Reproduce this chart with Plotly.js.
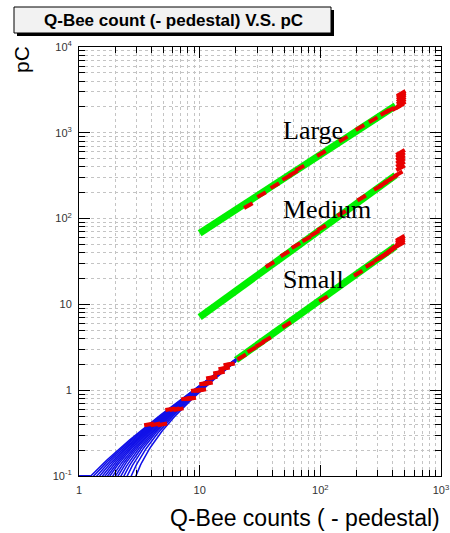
<!DOCTYPE html>
<html>
<head>
<meta charset="utf-8">
<script src="https://cdn.plot.ly/plotly-3.0.1.min.js"></script>
<style>
  html, body { margin: 0; padding: 0; background: #ffffff; }
  #chart { width: 450px; height: 533px; }
</style>
</head>
<body>
<div id="chart"></div>
<script>
// Q-Bee calibration: pedestal-subtracted counts against injected charge (pC)

// Large range measurements
const largeX = [25.3, 32.6, 42, 52.6, 59.7, 67.7, 102, 155, 213, 274, 343, 377, 429, 455, 468, 468, 468, 468, 468, 468];
const largeY = [141.6, 190, 242, 302, 337, 388, 574, 845, 1153, 1416, 1722, 1837, 1969, 2050, 2150, 2300, 2450, 2600, 2750, 2870];

// Medium range measurements
const mediumX = [38.2, 50.9, 62.8, 77, 90, 102.5, 150, 220, 302, 332, 365, 402, 442, 462, 462, 462, 462, 462, 462];
const mediumY = [29.2, 38.9, 48.5, 58, 67.5, 78, 115, 174, 231, 253, 277, 302, 331, 390, 430, 470, 510, 550, 590];

// Small range measurements above 20 counts
const smallX = [22.3, 27, 31.6, 35.9, 52.6, 106, 206, 258, 302, 318, 335, 352, 370, 390, 410, 429, 460, 460, 460, 460];
const smallY = [2.44, 2.97, 3.43, 3.88, 5.8, 11.6, 23.1, 29.2, 34, 35.5, 37, 39, 41, 43.5, 46, 48.5, 50, 53, 56, 59];

// Small range, low-charge points (0.2 pC steps, repeated readings)
const lowX = [3.8, 4.3, 4.9, 5.7, 6.2, 6.7, 7.7, 8.1, 8.5, 9.3, 9.8, 10.3, 10.9, 11.3, 11.7, 12.4, 12.8, 14.2, 14.7, 15.7, 16.2, 17.3, 17.8];
const lowY = [0.4, 0.4, 0.4, 0.6, 0.6, 0.6, 0.8, 0.8, 0.8, 1.0, 1.0, 1.0, 1.2, 1.2, 1.2, 1.4, 1.4, 1.6, 1.6, 1.8, 1.8, 2.0, 2.0];

// Power-law fits (straight in log-log): end points of each fitted segment
const largeFitX = [10, 420];
const largeFitY = [67.5, 2065];
const mediumFitX = [10, 420];
const mediumFitY = [7.1, 320];
const smallFitX = [20, 420];
const smallFitY = [2.25, 47.5];

// Low-range linear fits: counts where each fit reaches 0.1 pC, and its value at 20 counts
const lowFitStartX = [1.25, 1.32, 1.4, 1.48, 1.56, 1.64, 1.72, 1.8, 1.9, 2.0, 2.1, 2.22, 2.35, 2.5, 2.7, 2.95];
const lowFitEndY = [2.32, 2.31, 2.3, 2.29, 2.28, 2.27, 2.26, 2.25, 2.24, 2.23, 2.22, 2.21, 2.2, 2.19, 2.18, 2.16];
const lowFitEndX = 20;

// Axis labels
const xTickVals = [1, 10, 100, 1000];
const xTickText = ['1', '10', '10<sup>2</sup>', '10<sup>3</sup>'];
const yTickVals = [0.1, 1, 10, 100, 1000, 10000];
const yTickText = ['10<sup>-1</sup>', '1', '10', '10<sup>2</sup>', '10<sup>3</sup>', '10<sup>4</sup>'];

// ---- layout geometry (pixels) ----
const W = 450, H = 533;
const M = { l: 79, r: 9, t: 47, b: 57 };
const PW = W - M.l - M.r, PH = H - M.t - M.b;
const px = x => (x - M.l) / PW;          // page x -> paper x
const py = y => (H - M.b - y) / PH;      // page y -> paper y

function minorVals(lo, hi) {
  const v = [];
  for (let d = lo; d < hi; d++) {
    for (let k = 2; k <= 9; k++) v.push(k * Math.pow(10, d));
  }
  return v;
}

const traces = [];

// green fits
[[largeFitX, largeFitY], [mediumFitX, mediumFitY], [smallFitX, smallFitY]].forEach(([fx, fy]) => {
  traces.push({
    x: fx, y: fy, type: 'scatter', mode: 'lines',
    line: { color: '#00f000', width: 7 }, hoverinfo: 'skip'
  });
});

// blue low-range fits, each a straight line in linear space
lowFitStartX.forEach((x0, i) => {
  const x1 = lowFitEndX, y0 = 0.1, y1 = lowFitEndY[i];
  const slope = (y1 - y0) / (x1 - x0);
  const xs = [], ys = [];
  const n = 80;
  const a = Math.log10(x0 * 0.97), b = Math.log10(x1);
  for (let k = 0; k <= n; k++) {
    const x = Math.pow(10, a + (b - a) * k / n);
    xs.push(x);
    ys.push(y0 + slope * (x - x0));
  }
  traces.push({
    x: xs, y: ys, type: 'scatter', mode: 'lines',
    line: { color: '#1010e8', width: 1.5 }, hoverinfo: 'skip'
  });
});
// fits that dip below the frame run along its lower edge
traces.push({
  x: [1, lowFitStartX[0]], y: [0.1, 0.1], type: 'scatter', mode: 'lines',
  line: { color: '#1010e8', width: 2 }, cliponaxis: false, hoverinfo: 'skip'
});

// red measurement marks
const redMarker = (angle) => ({
  symbol: 'line-ew', size: 7, angle: angle,
  color: '#ff0000', line: { color: '#e80000', width: 4 }
});
[[largeX, largeY], [mediumX, mediumY], [smallX, smallY]].forEach(([mx, my]) => {
  traces.push({ x: mx, y: my, type: 'scatter', mode: 'markers', marker: redMarker(-30), hoverinfo: 'skip' });
});
traces.push({ x: lowX, y: lowY, type: 'scatter', mode: 'markers', marker: redMarker(-10), hoverinfo: 'skip' });

const gridCol = '#c4c4c4';
const axisCommon = {
  type: 'log',
  showline: true, linecolor: '#000', linewidth: 1, mirror: 'allticks',
  ticks: 'inside', tickcolor: '#000', tickwidth: 1,
  tickmode: 'array',
  showgrid: true, gridcolor: gridCol, gridwidth: 1, griddash: 'dot',
  zeroline: false,
  tickfont: { family: 'Liberation Sans, Arial, sans-serif', size: 11, color: '#333' },
  ticklabelstandoff: 4
};

const layout = {
  width: W, height: H,
  margin: M,
  paper_bgcolor: '#fff', plot_bgcolor: '#fff',
  showlegend: false,
  xaxis: Object.assign({}, axisCommon, {
    range: [0, 3], tickvals: xTickVals, ticktext: xTickText, ticklen: 11,
    minor: { tickmode: 'array', tickvals: minorVals(0, 3), ticks: 'inside', ticklen: 6,
             tickcolor: '#000', showgrid: true, gridcolor: gridCol, griddash: 'dot', gridwidth: 1 }
  }),
  yaxis: Object.assign({}, axisCommon, {
    range: [-1, 4], tickvals: yTickVals, ticktext: yTickText, ticklen: 11,
    minor: { tickmode: 'array', tickvals: minorVals(-1, 4), ticks: 'inside', ticklen: 6,
             tickcolor: '#000', showgrid: true, gridcolor: gridCol, griddash: 'dot', gridwidth: 1 }
  }),
  shapes: [
    // title box shadow
    { type: 'rect', xref: 'paper', yref: 'paper', layer: 'above',
      x0: px(17), x1: px(334), y0: py(36), y1: py(10),
      fillcolor: '#000', line: { width: 0 } },
    // title box
    { type: 'rect', xref: 'paper', yref: 'paper', layer: 'above',
      x0: px(14), x1: px(331), y0: py(33), y1: py(7),
      fillcolor: '#f2f2f2', line: { color: '#000', width: 1 } }
  ],
  annotations: [
    { text: '<b>Q-Bee count (- pedestal) V.S. pC</b>', xref: 'paper', yref: 'paper',
      x: px(173), y: py(20.5), xanchor: 'center', yanchor: 'middle', showarrow: false,
      font: { family: 'Liberation Sans, Arial, sans-serif', size: 17, color: '#000' } },
    { text: 'pC', xref: 'paper', yref: 'paper', textangle: -90,
      x: px(22), y: py(60), xanchor: 'center', yanchor: 'middle', showarrow: false,
      font: { family: 'Liberation Sans, Arial, sans-serif', size: 21, color: '#000' } },
    { text: 'Q-Bee counts ( - pedestal)', xref: 'paper', yref: 'paper',
      x: px(442), y: py(518), xanchor: 'right', yanchor: 'middle', showarrow: false,
      font: { family: 'Liberation Sans, Arial, sans-serif', size: 23, color: '#000' } },
    { text: 'Large', xref: 'paper', yref: 'paper',
      x: px(281), y: py(130), xanchor: 'left', yanchor: 'middle', showarrow: false,
      font: { family: 'Liberation Serif, Times New Roman, serif', size: 26, color: '#000' } },
    { text: 'Medium', xref: 'paper', yref: 'paper',
      x: px(281), y: py(209), xanchor: 'left', yanchor: 'middle', showarrow: false,
      font: { family: 'Liberation Serif, Times New Roman, serif', size: 26, color: '#000' } },
    { text: 'Small', xref: 'paper', yref: 'paper',
      x: px(281), y: py(279), xanchor: 'left', yanchor: 'middle', showarrow: false,
      font: { family: 'Liberation Serif, Times New Roman, serif', size: 26, color: '#000' } }
  ]
};

Plotly.newPlot('chart', traces, layout, { displayModeBar: false, staticPlot: true });
</script>
</body>
</html>
